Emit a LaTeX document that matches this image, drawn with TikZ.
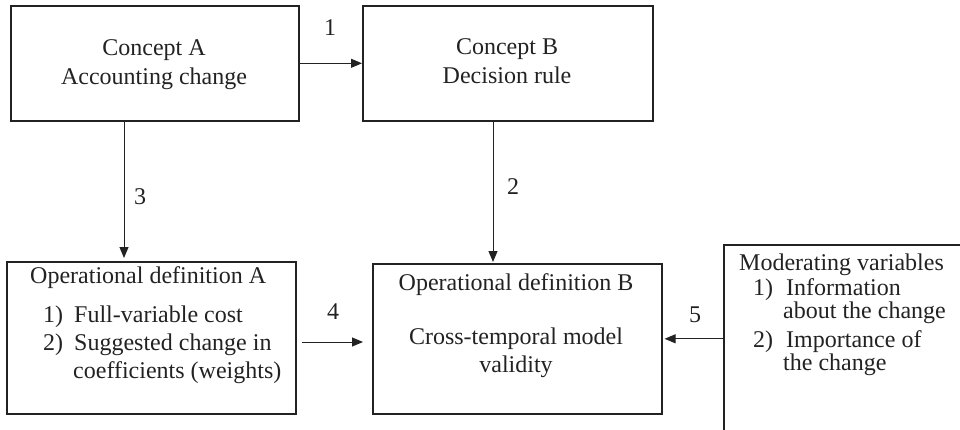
\documentclass[tikz,border=0pt]{standalone}
\usepackage{fontspec}
\setmainfont{Liberation Serif}
\usetikzlibrary{arrows.meta}
\definecolor{ink}{HTML}{222222}
\tikzset{
  box/.style={draw=ink, line width=1.6pt, inner sep=0pt, anchor=north west},
  arr/.style={draw=ink, line width=1pt, -{Triangle[length=11pt,width=9pt]}},
  txt/.style={text=ink, inner sep=0pt, font=\fontsize{24}{28}\selectfont},
  lbl/.style={text=ink, inner sep=0pt, font=\fontsize{24}{28}\selectfont}
}
\begin{document}
\begin{tikzpicture}[x=1pt,y=-1pt]
\useasboundingbox (0,0) rectangle (960,430);
\clip (0,0) rectangle (960,430);
% boxes
\node[box, minimum width=288pt, minimum height=115pt] (ca) at (10,5) {};
\node[box, minimum width=290pt, minimum height=115pt] (cb) at (362,5) {};
\node[box, minimum width=289pt, minimum height=152pt] (oa) at (6,261) {};
\node[box, minimum width=289pt, minimum height=150pt] (ob) at (372,263) {};
\node[box, minimum width=300pt, minimum height=260pt] (mv) at (723,244) {};
% texts
\node[txt, anchor=base] (ca1) at (154,56) {Concept A};
\node[txt, anchor=base] (ca2) at (154,85) {Accounting change};
\node[txt, anchor=base] (cb1) at (507,55) {Concept B};
\node[txt, anchor=base] (cb2) at (507,84) {Decision rule};
\node[txt, anchor=base west] (oa1) at (30,283) {Operational definition A};
\node[txt, anchor=base west] (oa2n) at (43,322) {1)};
\node[txt, anchor=base west] (oa2) at (74,322) {Full-variable cost};
\node[txt, anchor=base west] (oa3n) at (43,350) {2)};
\node[txt, anchor=base west] (oa3) at (74,350) {Suggested change in};
\node[txt, anchor=base west] (oa4) at (73,378) {coefficients (weights)};
\node[txt, anchor=base] (ob1) at (516,290) {Operational definition B};
\node[txt, anchor=base] (ob2) at (516,344) {Cross-temporal model};
\node[txt, anchor=base] (ob3) at (516,372) {validity};
\node[txt, anchor=base west] (mv1) at (739,270) {Moderating variables};
\node[txt, anchor=base west] (mv2n) at (753,295) {1)};
\node[txt, anchor=base west] (mv2) at (786,295) {Information};
\node[txt, anchor=base west] (mv3) at (783,318) {about the change};
\node[txt, anchor=base west] (mv4n) at (753,347) {2)};
\node[txt, anchor=base west] (mv4) at (786,347) {Importance of};
\node[txt, anchor=base west] (mv5) at (783,370) {the change};
% connectors
\draw[arr] (ca.east) -- (cb.west);
\draw[arr, shorten >=3pt] (ca.south -| 124,0) -- (oa.north -| 124,0);
\draw[arr, shorten >=1pt] (cb.south -| 493,0) -- (ob.north -| 493,0);
\coordinate (a4s) at (302,342);
\draw[arr, shorten >=9pt] (a4s) -- (ob.west |- a4s);
\draw[arr, shorten >=2pt] (mv.west |- ob.east) -- (ob.east);
% connector labels
\node[lbl] (l1) at (330,28) {1};
\node[lbl] (l3) at (140,197) {3};
\node[lbl] (l2) at (513,187) {2};
\node[lbl] (l4) at (333,312) {4};
\node[lbl] (l5) at (695,315) {5};
\end{tikzpicture}
\end{document}
